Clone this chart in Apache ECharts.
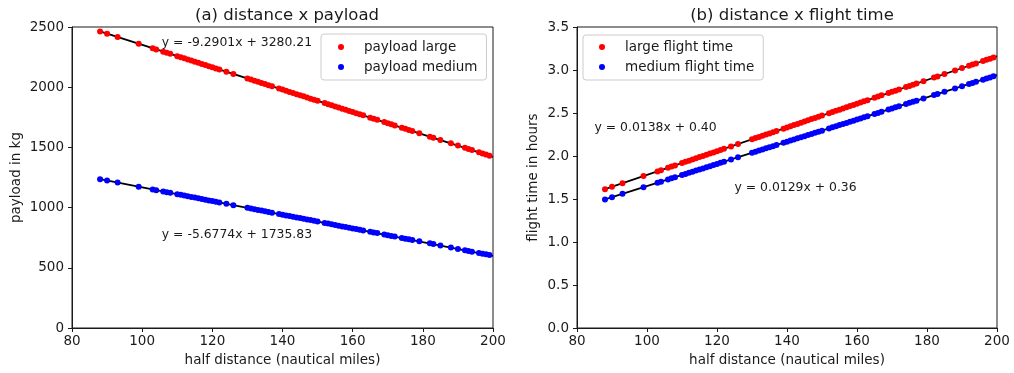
<!DOCTYPE html>
<html>
<head>
<meta charset="utf-8">
<script src="https://cdn.jsdelivr.net/npm/echarts@6/dist/echarts.min.js"></script>
<style>
  html, body { margin: 0; padding: 0; background: #fff; }
  #chart { width: 1014px; height: 373px; }
</style>
</head>
<body>
<div id="chart"></div>
<script>
// Half distances of the flights (nautical miles), shared by all four series
const halfDistance = [88, 90, 93, 99, 103, 104, 106, 107, 108, 110, 111, 112, 113, 114, 115, 116, 117, 118, 119, 120,
  121, 122, 124, 126, 130, 131, 132, 133, 134, 135, 136, 137, 139, 140, 141, 142, 143, 144, 145, 146,
  147, 148, 149, 150, 152, 153, 154, 155, 156, 157, 158, 159, 160, 161, 162, 163, 165, 166, 167, 169,
  170, 171, 172, 174, 175, 176, 177, 179, 182, 183, 185, 188, 190, 192, 193, 194, 196, 197, 198, 199];

// Payload (kg)
const payloadLarge = [2463, 2444, 2416, 2360, 2323, 2314, 2295, 2286, 2277, 2258, 2249, 2240, 2230, 2221, 2212, 2203, 2193, 2184, 2175, 2165,
  2156, 2147, 2128, 2110, 2072, 2063, 2054, 2045, 2035, 2026, 2017, 2007, 1989, 1980, 1970, 1961, 1952, 1942, 1933, 1924,
  1915, 1905, 1896, 1887, 1868, 1859, 1850, 1840, 1831, 1822, 1812, 1803, 1794, 1784, 1775, 1766, 1747, 1738, 1729, 1710,
  1701, 1692, 1682, 1664, 1654, 1645, 1636, 1617, 1589, 1580, 1562, 1534, 1515, 1497, 1487, 1478, 1459, 1450, 1441, 1431];
const payloadMedium = [1236, 1225, 1208, 1174, 1151, 1145, 1134, 1128, 1123, 1111, 1106, 1100, 1094, 1089, 1083, 1077, 1072, 1066, 1060, 1055,
  1049, 1043, 1032, 1020, 998, 992, 986, 981, 975, 969, 964, 958, 947, 941, 935, 930, 924, 918, 913, 907,
  901, 896, 890, 884, 873, 867, 862, 856, 850, 844, 839, 833, 827, 822, 816, 810, 799, 793, 788, 776,
  771, 765, 759, 748, 742, 737, 731, 720, 703, 697, 686, 668, 657, 646, 640, 634, 623, 617, 612, 606];

// Flight time (hours)
const flightLarge = [1.614, 1.642, 1.683, 1.766, 1.821, 1.835, 1.863, 1.877, 1.890, 1.918, 1.932, 1.946, 1.959, 1.973, 1.987, 2.001, 2.015, 2.028, 2.042, 2.056,
  2.070, 2.084, 2.111, 2.139, 2.194, 2.208, 2.222, 2.235, 2.249, 2.263, 2.277, 2.291, 2.318, 2.332, 2.346, 2.360, 2.373, 2.387, 2.401, 2.415,
  2.429, 2.442, 2.456, 2.470, 2.498, 2.511, 2.525, 2.539, 2.553, 2.567, 2.580, 2.594, 2.608, 2.622, 2.636, 2.649, 2.677, 2.691, 2.705, 2.732,
  2.746, 2.760, 2.774, 2.801, 2.815, 2.829, 2.843, 2.870, 2.912, 2.925, 2.953, 2.994, 3.022, 3.050, 3.063, 3.077, 3.105, 3.119, 3.132, 3.146];
const flightMedium = [1.495, 1.521, 1.560, 1.637, 1.689, 1.702, 1.727, 1.740, 1.753, 1.779, 1.792, 1.805, 1.818, 1.831, 1.844, 1.856, 1.869, 1.882, 1.895, 1.908,
  1.921, 1.934, 1.960, 1.985, 2.037, 2.050, 2.063, 2.076, 2.089, 2.102, 2.114, 2.127, 2.153, 2.166, 2.179, 2.192, 2.205, 2.218, 2.231, 2.243,
  2.256, 2.269, 2.282, 2.295, 2.321, 2.334, 2.347, 2.360, 2.372, 2.385, 2.398, 2.411, 2.424, 2.437, 2.450, 2.463, 2.489, 2.501, 2.514, 2.540,
  2.553, 2.566, 2.579, 2.605, 2.618, 2.630, 2.643, 2.669, 2.708, 2.721, 2.747, 2.785, 2.811, 2.837, 2.850, 2.863, 2.888, 2.901, 2.914, 2.927];

// Least-squares fit lines, evaluated at the ends of the distance range
const fitX = [88, 200];
const fitPayloadLarge = [2463, 1422];
const fitPayloadMedium = [1236, 600];
const fitFlightLarge = [1.614, 3.160];
const fitFlightMedium = [1.495, 2.940];

// Fit equations, with the data point where each text starts
const eqPayloadLarge = { text: 'y = -9.2901x + 3280.21', at: [105.6, 2365] };
const eqPayloadMedium = { text: 'y = -5.6774x + 1735.83', at: [105.6, 775] };
const eqFlightLarge = { text: 'y = 0.0138x + 0.40', at: [85.0, 2.325] };
const eqFlightMedium = { text: 'y = 0.0129x + 0.36', at: [125.0, 1.630] };

const xTicks = { min: 80, max: 200, interval: 20 };
const payloadTicks = { min: 0, max: 2500, interval: 500 };
const flightTicks = { min: 0, max: 3.5, interval: 0.5 };

const FONT = 'DejaVu Sans';
const INK = '#1a1a1a';

function pairs(xs, ys) { return xs.map((x, i) => [x, ys[i]]); }

function xAxisFor(gridIndex) {
  return {
    gridIndex, type: 'value', ...xTicks,
    name: 'half distance (nautical miles)', nameLocation: 'middle', nameGap: 25,
    nameTextStyle: { fontFamily: FONT, fontSize: 13.5, color: INK },
    axisLine: { show: true, onZero: false, lineStyle: { color: INK, width: 1 } },
    axisTick: { show: true, inside: false, length: 4, lineStyle: { color: INK } },
    axisLabel: { fontFamily: FONT, fontSize: 13.5, color: INK, margin: 6 },
    splitLine: { show: false }
  };
}
function yAxisFor(gridIndex, ticks, name, gap, fmt) {
  return {
    gridIndex, type: 'value', ...ticks,
    name, nameLocation: 'middle', nameGap: gap,
    nameTextStyle: { fontFamily: FONT, fontSize: 13.5, color: INK },
    axisLine: { show: true, onZero: false, lineStyle: { color: INK, width: 1 } },
    axisTick: { show: true, inside: false, length: 4, lineStyle: { color: INK } },
    axisLabel: { fontFamily: FONT, fontSize: 13.5, color: INK, margin: 8, formatter: fmt },
    splitLine: { show: false }
  };
}
function scatter(name, idx, xs, ys, color) {
  return {
    name, type: 'scatter', xAxisIndex: idx, yAxisIndex: idx,
    data: pairs(xs, ys), symbol: 'circle', symbolSize: 6,
    itemStyle: { color, opacity: 1 }, z: 3
  };
}
function fitLine(idx, ys) {
  return {
    type: 'line', xAxisIndex: idx, yAxisIndex: idx,
    data: pairs(fitX, ys), showSymbol: false, silent: true,
    lineStyle: { color: '#000', width: 1.8 }, z: 2
  };
}
function legendFor(names, left, top, padding) {
  return {
    data: names, orient: 'vertical', left, top, itemWidth: 36, itemHeight: 6, itemGap: 6,
    icon: 'circle', selectedMode: false, padding,
    backgroundColor: 'rgba(255,255,255,0.8)', borderColor: '#cccccc', borderWidth: 1, borderRadius: 3,
    textStyle: { fontFamily: FONT, fontSize: 13.5, color: INK }
  };
}

const chart = echarts.init(document.getElementById('chart'), null, { renderer: 'canvas' });
chart.setOption({
  animation: false,
  backgroundColor: '#fff',
  title: [
    { text: '(a) distance x payload', left: 282, top: 2, textAlign: 'center',
      textStyle: { fontFamily: FONT, fontSize: 16.5, fontWeight: 'normal', color: INK } },
    { text: '(b) distance x flight time', left: 787, top: 2, textAlign: 'center',
      textStyle: { fontFamily: FONT, fontSize: 16.5, fontWeight: 'normal', color: INK } }
  ],
  grid: [
    { left: 72, right: 521, top: 27, bottom: 45, show: true, borderColor: INK, borderWidth: 1 },
    { left: 577, right: 17, top: 27, bottom: 45, show: true, borderColor: INK, borderWidth: 1 }
  ],
  legend: [
    legendFor(['payload large', 'payload medium'], 321, 34, [6, 9, 6, 17]),
    legendFor(['large flight time', 'medium flight time'], 583, 35, [5, 9, 6, 16])
  ],
  xAxis: [xAxisFor(0), xAxisFor(1)],
  yAxis: [
    yAxisFor(0, payloadTicks, 'payload in kg', 49, v => String(v)),
    yAxisFor(1, flightTicks, 'flight time in hours', 37, v => v.toFixed(1))
  ],
  series: [
    fitLine(0, fitPayloadLarge),
    fitLine(0, fitPayloadMedium),
    scatter('payload large', 0, halfDistance, payloadLarge, '#ff0000'),
    scatter('payload medium', 0, halfDistance, payloadMedium, '#0000ff'),
    fitLine(1, fitFlightLarge),
    fitLine(1, fitFlightMedium),
    scatter('large flight time', 1, halfDistance, flightLarge, '#ff0000'),
    scatter('medium flight time', 1, halfDistance, flightMedium, '#0000ff')
  ]
});

// Fit equations, placed in data coordinates of their own panel
function eqGraphic(eq, idx) {
  const p = chart.convertToPixel({ xAxisIndex: idx, yAxisIndex: idx }, eq.at);
  return {
    type: 'text', x: p[0], y: p[1], z: 10,
    style: { text: eq.text, fontFamily: FONT, fontSize: 12.4, fill: INK, verticalAlign: 'middle', align: 'left' }
  };
}
chart.setOption({
  graphic: [
    eqGraphic(eqPayloadLarge, 0),
    eqGraphic(eqPayloadMedium, 0),
    eqGraphic(eqFlightLarge, 1),
    eqGraphic(eqFlightMedium, 1)
  ]
});
</script>
</body>
</html>
